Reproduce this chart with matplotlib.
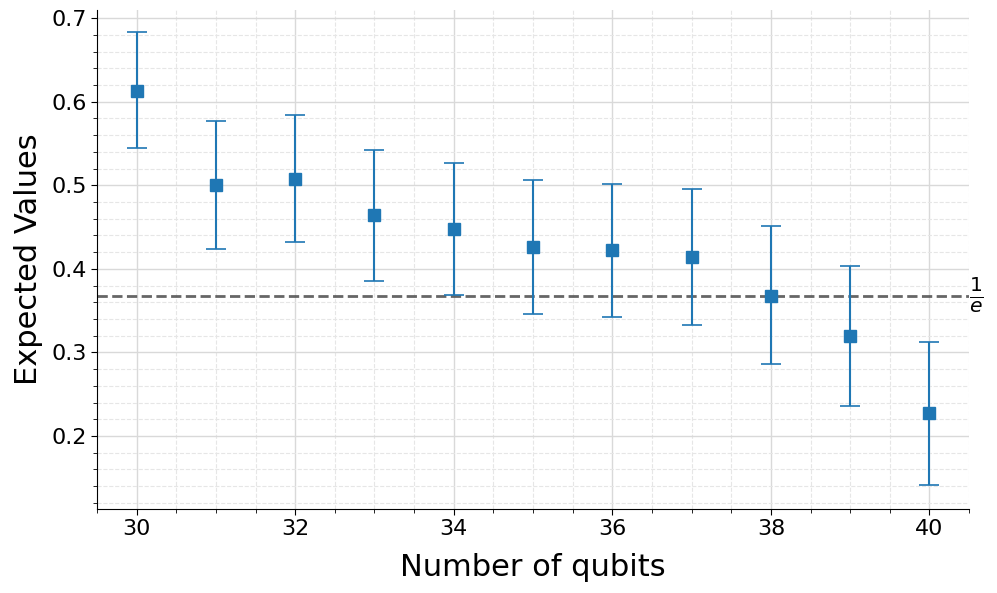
import matplotlib

matplotlib.use("Agg")
import matplotlib.pyplot as plt
import numpy as np
from matplotlib.ticker import AutoMinorLocator, MultipleLocator

qubits = [30, 31, 32, 33, 34, 35, 36, 37, 38, 39, 40]
expected = [0.613, 0.500, 0.508, 0.464, 0.448, 0.426, 0.422, 0.414, 0.368, 0.320, 0.227]
err_low = [0.069, 0.076, 0.076, 0.078, 0.079, 0.080, 0.080, 0.081, 0.082, 0.084, 0.086]
err_high = [0.070, 0.077, 0.076, 0.078, 0.079, 0.080, 0.080, 0.081, 0.083, 0.084, 0.086]
ref_value = 1 / np.e

fig = plt.figure(figsize=(9.97, 5.93), dpi=100)
ax = fig.add_axes([0.0973, 0.1417, 0.8747, 0.8413])

ax.errorbar(qubits, expected, yerr=[err_low, err_high], fmt="s", color="#1f77b4",
            markersize=8, capsize=7, elinewidth=1.5, capthick=1.2, zorder=3)
ax.axhline(ref_value, color="#555555", linestyle="--", linewidth=2, alpha=0.9, zorder=2)
ax.text(40.5, ref_value, r"$\frac{1}{e}$", fontsize=21, va="center", ha="left")

ax.set_xlim(29.5, 40.5)
ax.set_ylim(0.1127, 0.7096)
ax.xaxis.set_major_locator(MultipleLocator(2))
ax.xaxis.set_minor_locator(MultipleLocator(0.5))
ax.yaxis.set_major_locator(MultipleLocator(0.1))
ax.yaxis.set_minor_locator(AutoMinorLocator(5))

ax.grid(True, which="major", color="#d9d9d9", linewidth=1)
ax.grid(True, which="minor", color="#e6e6e6", linestyle="--", linewidth=0.8)
ax.set_axisbelow(True)

ax.spines["top"].set_visible(False)
ax.spines["right"].set_visible(False)
ax.tick_params(axis="both", which="major", labelsize=16, length=4)
ax.tick_params(axis="both", which="minor", length=3)

ax.set_xlabel("Number of qubits", fontsize=22, labelpad=10)
ax.set_ylabel("Expected Values", fontsize=22, labelpad=6)

fig.savefig("out.png", dpi=100)
